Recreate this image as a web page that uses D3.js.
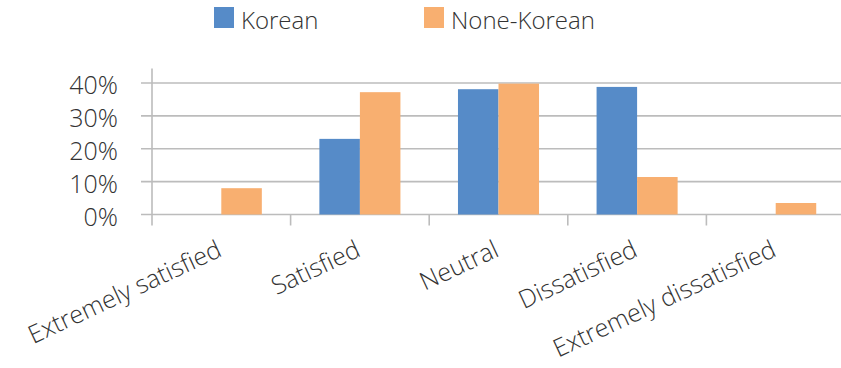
<!DOCTYPE html>
<html>
<head>
<meta charset="utf-8">
<script src="https://cdn.jsdelivr.net/npm/d3@7"></script>
<style>
  html, body { margin: 0; padding: 0; background: #fff; }
  svg { display: block; }
  text { font-family: "Open Sans", "Noto Sans", sans-serif; fill: #333333; font-weight: 350; }
</style>
</head>
<body>
<svg id="chart" width="841" height="368"></svg>
<script>
// Satisfaction survey: share of respondents per answer
const categories = ["Extremely satisfied", "Satisfied", "Neutral", "Dissatisfied", "Extremely dissatisfied"];
const seriesNames = ["Korean", "None-Korean"];
const korean = [0, 0.23, 0.381, 0.388, 0];
const noneKorean = [0.08, 0.372, 0.398, 0.114, 0.035];
const yTicks = [0, 0.1, 0.2, 0.3, 0.4];
const colors = ["#568BC8", "#F8AF70"];

const series = [korean, noneKorean];

const svg = d3.select("#chart");
const gridColor = "#bcbcbc";

// Plot area
const x0 = 152, x1 = 845, yTop = 68.5, yBase = 214.5;

const x = d3.scaleBand().domain(categories).range([x0, x1]).paddingInner(0).paddingOuter(0);
const xSub = d3.scaleBand().domain(seriesNames).range([0, x.bandwidth()]).paddingOuter(0.71).paddingInner(0);
const y = d3.scaleLinear().domain([0, 0.444]).range([yBase, yTop]);

// Horizontal gridlines with the left tick marks
svg.append("g")
  .selectAll("line")
  .data(yTicks)
  .join("line")
  .attr("x1", x0 - 11)
  .attr("x2", 841)
  .attr("y1", d => y(d))
  .attr("y2", d => y(d))
  .attr("stroke", gridColor)
  .attr("stroke-width", 1.6);

// Value axis labels
const yAxis = d3.axisLeft(y).tickValues(yTicks).tickFormat(d3.format(".0%")).tickSize(0).tickPadding(34);
const yg = svg.append("g").attr("transform", `translate(${x0},0)`).call(yAxis);
yg.select(".domain").remove();
yg.selectAll("text")
  .attr("font-size", 25)
  .attr("dy", "0.42em")
  .style("font-family", '"Open Sans", sans-serif')
  .attr("fill", "#333333");

// Vertical axis line
svg.append("line")
  .attr("x1", x0).attr("x2", x0)
  .attr("y1", yTop).attr("y2", yBase + 11)
  .attr("stroke", gridColor).attr("stroke-width", 1.6);

// Category tick marks at band boundaries
svg.append("g")
  .selectAll("line")
  .data(categories.slice(1))
  .join("line")
  .attr("x1", d => x(d)).attr("x2", d => x(d))
  .attr("y1", yBase).attr("y2", yBase + 11)
  .attr("stroke", gridColor).attr("stroke-width", 1.6);

// Bars
series.forEach((vals, si) => {
  svg.append("g")
    .selectAll("rect")
    .data(vals.map((v, i) => ({ cat: categories[i], v })))
    .join("rect")
    .attr("x", d => x(d.cat) + xSub(seriesNames[si]))
    .attr("width", xSub.bandwidth())
    .attr("y", d => y(d.v))
    .attr("height", d => y(0) - y(d.v))
    .attr("fill", colors[si]);
});

// Rotated category labels
svg.append("g")
  .selectAll("text")
  .data(categories)
  .join("text")
  .attr("transform", d => `translate(${x(d) + x.bandwidth() / 2 + 2},${yBase + 41}) rotate(-25)`)
  .attr("text-anchor", "end")
  .attr("font-size", 25)
  .text(d => d);

// Legend
const legendPos = [214, 424];
const lg = svg.append("g");
seriesNames.forEach((name, i) => {
  lg.append("rect")
    .attr("x", legendPos[i]).attr("y", 7)
    .attr("width", 20).attr("height", 21)
    .attr("fill", colors[i]);
  lg.append("text")
    .attr("x", legendPos[i] + 27).attr("y", 28.5)
    .attr("font-size", 24)
    .text(name);
});
</script>
</body>
</html>
